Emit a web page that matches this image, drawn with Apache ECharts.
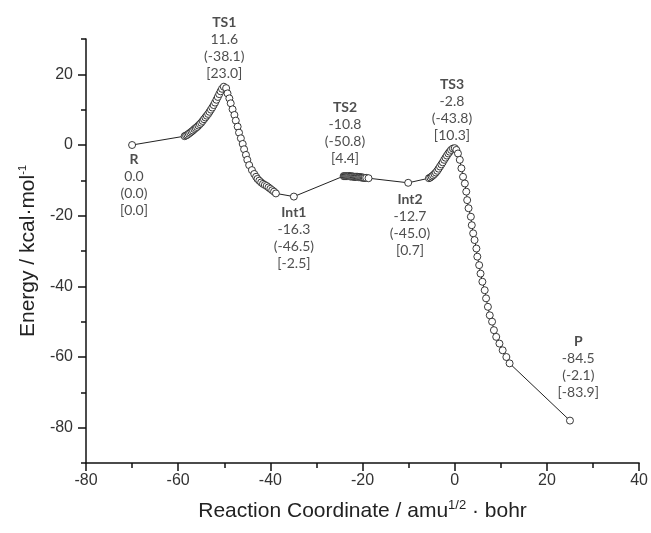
<!DOCTYPE html>
<html><head><meta charset="utf-8">
<script src="https://cdn.jsdelivr.net/npm/echarts@6/dist/echarts.min.js"></script>
<style>html,body{margin:0;padding:0;background:#fff}#c{width:651px;height:533px}</style>
</head><body><div id="c"></div>
<script>
// IRC profile (x: reaction coordinate, y: energy)
const segR = [[-70, 0]];
const segTS1 = [
  [-58.6,2.5],[-58.3,2.7],[-58.0,2.9],[-57.7,3.2],[-57.4,3.5],[-57.1,3.8],[-56.8,4.1],[-56.5,4.5],
  [-56.2,4.8],[-55.9,5.1],[-55.6,5.5],[-55.3,5.9],[-55.0,6.3],[-54.7,6.8],[-54.4,7.3],[-54.1,7.8],
  [-53.8,8.3],[-53.5,8.8],[-53.2,9.4],[-52.9,10.0],[-52.6,10.6],[-52.3,11.3],[-52.0,12.0],[-51.7,12.8],
  [-51.4,13.6],[-51.1,14.4],[-50.8,15.2],[-50.5,15.9],[-50.1,16.5],
  [-49.6,16.1],[-49.3,14.6],[-48.9,13.2],[-48.6,11.8],[-48.2,10.1],[-47.8,8.5],[-47.5,6.9],[-47.1,5.2],
  [-46.8,3.5],[-46.4,1.9],[-46.0,0.3],[-45.7,-1.2],[-45.3,-2.8],[-45.0,-4.2],[-44.6,-5.7],[-44.0,-7.1],
  [-43.5,-8.2],[-43.1,-9.0],[-42.8,-9.6],[-42.4,-10.1],[-42.0,-10.6],[-41.6,-11.0],[-41.2,-11.3],
  [-40.8,-11.6],[-40.4,-12.0],[-40.0,-12.4],[-39.6,-12.8],[-39.2,-13.2],[-38.8,-13.7]
];
const segInt1 = [[-34.9, -14.6]];
const segTS2 = [
  [-24.1,-8.8],[-23.9,-8.8],[-23.7,-8.8],[-23.5,-8.8],[-23.3,-8.8],[-23.1,-8.8],[-22.9,-8.8],
  [-22.7,-8.9],[-22.5,-8.9],[-22.3,-8.9],[-22.1,-8.9],[-21.9,-9.0],[-21.7,-9.0],[-21.5,-9.0],
  [-21.3,-9.0],[-21.1,-9.0],[-20.9,-9.1],[-20.7,-9.1],[-20.5,-9.1],[-20.3,-9.2],[-20.1,-9.2],
  [-19.9,-9.2],[-19.7,-9.3],[-19.5,-9.3],[-19.2,-9.3],[-18.7,-9.4]
];
const segInt2 = [[-10.1, -10.7]];
const segTS3 = [
  [-5.6,-9.4],[-5.3,-9.2],[-5.0,-8.9],[-4.7,-8.6],[-4.4,-8.2],[-4.1,-7.8],[-3.8,-7.3],[-3.5,-6.7],
  [-3.2,-6.1],[-2.9,-5.5],[-2.6,-4.9],[-2.3,-4.2],[-2.0,-3.6],[-1.7,-3.0],[-1.4,-2.4],[-1.1,-1.9],
  [-0.8,-1.4],[-0.4,-1.0],[0.0,-0.9],[0.35,-1.4],
  [0.7,-2.4],[1.1,-4.2],[1.45,-6.6],[1.8,-9.0],[2.2,-10.9],[2.5,-13.2],[2.7,-15.6],[3.0,-17.9],
  [3.5,-20.3],[3.7,-22.7],[4.0,-25.0],[4.3,-26.9],[4.7,-29.3],[4.9,-31.6],[5.3,-34.0],[5.6,-36.4],
  [6.0,-38.7],[6.5,-41.1],[6.8,-43.4],[7.2,-45.8],[7.6,-48.2],[8.1,-50.0],[8.5,-52.4],[9.0,-54.3],
  [9.7,-56.2],[10.4,-58.1],[11.2,-60.0],[11.9,-61.8]
];
const segP = [[25, -78]];

// annotations
const labelNames   = ['R', 'TS1', 'Int1', 'TS2', 'Int2', 'TS3', 'P'];
const labelEnergy  = ['0.0', '11.6', '-16.3', '-10.8', '-12.7', '-2.8', '-84.5'];
const labelParen   = ['(0.0)', '(-38.1)', '(-46.5)', '(-50.8)', '(-45.0)', '(-43.8)', '(-2.1)'];
const labelBracket = ['[0.0]', '[23.0]', '[-2.5]', '[4.4]', '[0.7]', '[10.3]', '[-83.9]'];
const labelAnchorX = [-69.6, -50.0, -34.9, -23.8, -9.7, -0.6, 26.8];
const labelAnchorY = [-11.3, 27.4, -26.3, 3.5, -22.6, 9.8, -62.9];

// axes
const xTicks = [-80, -60, -40, -20, 0, 20, 40];
const yTicks = [-80, -60, -40, -20, 0, 20];

const irc = [].concat(segR, segTS1, segInt1, segTS2, segInt2, segTS3, segP);
const labelData = labelNames.map((n, i) => ({
  value: [labelAnchorX[i], labelAnchorY[i]],
  name: n, e: labelEnergy[i], p: labelParen[i], b: labelBracket[i]
}));

const axisCol = '#111';
const tickFont = {color: '#333', fontSize: 16, fontFamily: 'Liberation Sans, Arial, sans-serif'};
const chart = echarts.init(document.getElementById('c'), null, {renderer: 'canvas'});
chart.setOption({
  animation: false,
  backgroundColor: '#fff',
  grid: {left: 86, right: 9, top: 39, bottom: 70, containLabel: false},
  xAxis: {
    type: 'value', min: -80, max: 40, interval: 20,
    name: 'Reaction Coordinate / amu{sup|1/2} · bohr',
    nameLocation: 'middle', nameGap: 36,
    nameTextStyle: {fontSize: 21, color: '#222', fontFamily: 'Liberation Sans, Arial, sans-serif',
      rich: {sup: {fontSize: 13, color: '#222', fontFamily: 'Liberation Sans, Arial, sans-serif', padding: [0, 0, 12, 0]}}},
    axisLine: {onZero: false, lineStyle: {color: axisCol, width: 1.5}},
    axisTick: {length: 8, lineStyle: {color: axisCol, width: 1.5}},
    minorTick: {show: true, splitNumber: 2, length: 5, lineStyle: {color: axisCol, width: 1.5}},
    splitLine: {show: false},
    axisLabel: Object.assign({margin: 10, customValues: xTicks}, tickFont)
  },
  yAxis: [{
    type: 'value', min: -90, max: 30, interval: 10,
    name: 'Energy / kcal·mol{sup|-1}',
    nameLocation: 'middle', nameGap: 44, nameRotate: 90,
    nameTextStyle: {fontSize: 21, color: '#222', fontFamily: 'Liberation Sans, Arial, sans-serif',
      rich: {sup: {fontSize: 11, color: '#222', fontFamily: 'Liberation Sans, Arial, sans-serif', padding: [0, 0, 12, 0]}}},
    axisLine: {onZero: false, lineStyle: {color: axisCol, width: 1.5}},
    axisTick: {length: 5, lineStyle: {color: axisCol, width: 1.5}},
    splitLine: {show: false},
    axisLabel: Object.assign({margin: 13, customValues: yTicks}, tickFont)
  }, {
    type: 'value', min: -90, max: 30, position: 'left',
    axisLine: {show: false, onZero: false},
    axisTick: {show: true, length: 8, customValues: yTicks, lineStyle: {color: axisCol, width: 1.5}},
    axisLabel: {show: false},
    splitLine: {show: false}
  }],
  series: [{
    type: 'line', data: irc, yAxisIndex: 0,
    symbol: 'circle', symbolSize: 7, showAllSymbol: true,
    lineStyle: {color: '#222', width: 1},
    itemStyle: {color: '#fff', borderColor: '#222', borderWidth: 0.9},
    z: 3
  }, {
    type: 'scatter', data: labelData, yAxisIndex: 0,
    symbolSize: 0, silent: true, z: 4,
    label: {
      show: true, position: 'inside',
      formatter: p => '{n|' + p.data.name + '}\n{v|' + p.data.e + '}\n{v|' + p.data.p + '}\n{v|' + p.data.b + '}',
      rich: {
        n: {fontFamily: 'Lato, sans-serif', fontWeight: 'bold', fontSize: 14, color: '#222', lineHeight: 17, align: 'center'},
        v: {fontFamily: 'Lato, sans-serif', fontSize: 14, color: '#222', lineHeight: 17, align: 'center'}
      }
    }
  }]
});
</script></body></html>
